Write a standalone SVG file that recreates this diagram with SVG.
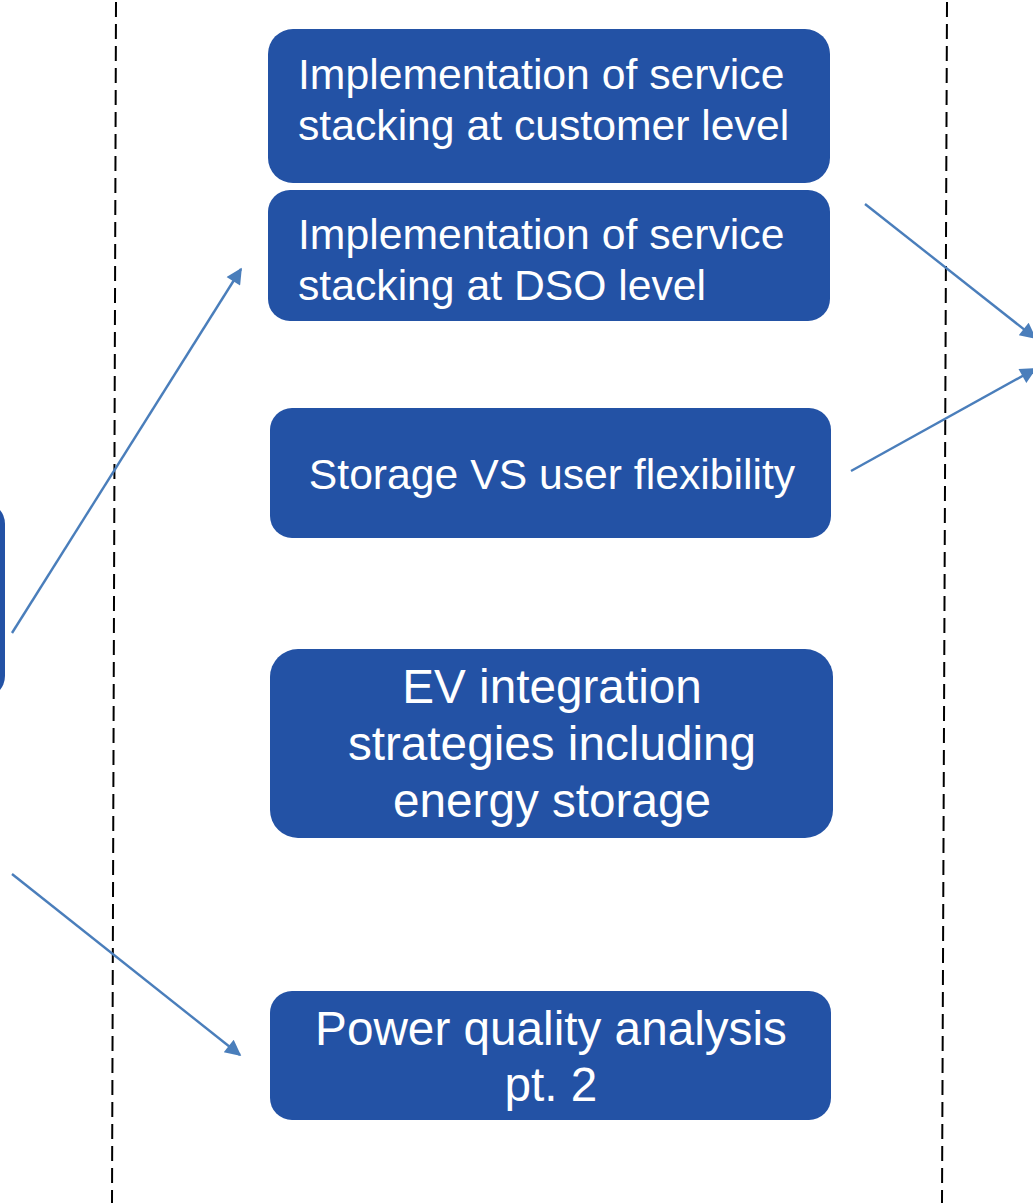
<svg xmlns="http://www.w3.org/2000/svg" width="1033" height="1203" viewBox="0 0 1033 1203">
<defs>
<style>
.box{fill:#2352A5;}
.t{font-family:"Liberation Sans",Arial,sans-serif;font-size:42.7px;fill:#ffffff;}
.big{font-size:47.7px;}
.c{text-anchor:middle;}
.dash{stroke:#000;stroke-width:2;stroke-dasharray:15 7;fill:none;}
.conn{stroke:#4A7EBB;stroke-width:2.4;fill:none;marker-end:url(#ah);}
</style>
<marker id="ah" viewBox="0 0 10 10" refX="9" refY="5" markerWidth="19" markerHeight="16" markerUnits="userSpaceOnUse" orient="auto">
<path d="M0,0 L10,5 L0,10 Z" fill="#4A7EBB"/>
</marker>
</defs>
<rect width="1033" height="1203" fill="#ffffff"/>
<g id="dividers">
<line class="dash" x1="116" y1="2" x2="112" y2="1203"/>
<line class="dash" x1="947" y1="2" x2="942" y2="1203"/>
</g>
<g id="node-left">
<rect class="box" x="-40" y="502" width="45" height="196" rx="22"/>
</g>
<g id="node-customer">
<rect class="box" x="268" y="29" width="562" height="154" rx="25"/>
<text class="t" x="298" y="89">Implementation of service</text>
<text class="t" x="298" y="140">stacking at customer level</text>
</g>
<g id="node-dso">
<rect class="box" x="268" y="190" width="562" height="131" rx="22"/>
<text class="t" x="298" y="249">Implementation of service</text>
<text class="t" x="298" y="300">stacking at DSO level</text>
</g>
<g id="node-storage">
<rect class="box" x="270" y="408" width="561" height="130" rx="22"/>
<text class="t c" x="552" y="489">Storage VS user flexibility</text>
</g>
<g id="node-ev">
<rect class="box" x="270" y="649" width="563" height="189" rx="28"/>
<text class="t big c" x="552" y="703">EV integration</text>
<text class="t big c" x="552" y="760">strategies including</text>
<text class="t big c" x="552" y="817">energy storage</text>
</g>
<g id="node-pq">
<rect class="box" x="270" y="991" width="561" height="129" rx="22"/>
<text class="t big c" x="551" y="1045">Power quality analysis</text>
<text class="t big c" x="551" y="1101">pt. 2</text>
</g>
<g id="connectors">
<line class="conn" x1="12" y1="633" x2="241" y2="269"/>
<line class="conn" x1="12" y1="874" x2="240" y2="1055"/>
<line class="conn" x1="865" y1="204" x2="1035" y2="338"/>
<line class="conn" x1="851" y1="471" x2="1035" y2="369"/>
</g>
</svg>
